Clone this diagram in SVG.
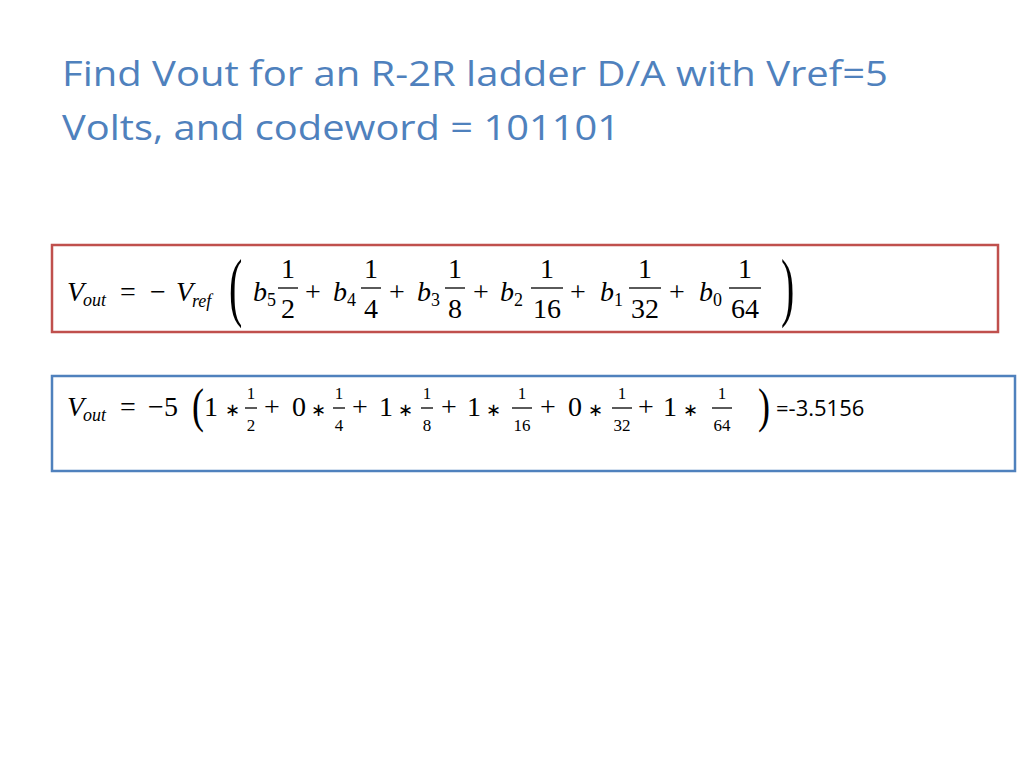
<svg xmlns="http://www.w3.org/2000/svg" width="1024" height="768" viewBox="0 0 1024 768">
<style>
.t{font-family:"Open Sans","Liberation Sans",sans-serif;font-size:35px;fill:#4f81bd}
.m{font-family:"Liberation Serif",serif;fill:#000}
.i{font-style:italic}
.a{font-size:28px}
.s{font-size:18px}
.f{font-size:28px;text-anchor:middle}
.g{font-size:17px;text-anchor:middle}
.o{text-anchor:middle}
.fl{stroke:#000;stroke-width:1.3}
</style>
<rect width="1024" height="768" fill="#fff"/>
<g id="title">
<text class="t" x="62" y="86" textLength="826" lengthAdjust="spacingAndGlyphs">Find Vout for an R-2R ladder D/A with Vref=5</text>
<text class="t" x="62" y="140" textLength="558" lengthAdjust="spacingAndGlyphs">Volts, and codeword = 101101</text>
</g>
<g id="formula">
<rect x="52" y="245" width="946" height="87" fill="#fff" stroke="#c0504d" stroke-width="2.5"/>
<g class="m a">
<text x="67" y="301" class="i">V</text><text x="83" y="306" class="i s">out</text>
<text x="128" y="301" class="o">=</text>
<text x="158" y="301" class="o">−</text>
<text x="176" y="301" class="i">V</text><text x="192" y="307" class="i s">ref</text>
<text transform="translate(229 312) scale(1 1.9)" style="font-size:40px">(</text>
<text x="253" y="301" class="i">b</text><text x="267" y="306" class="s">5</text>
<text x="313" y="301" class="o">+</text>
<text x="333" y="301" class="i">b</text><text x="347" y="306" class="s">4</text>
<text x="397" y="301" class="o">+</text>
<text x="417" y="301" class="i">b</text><text x="431" y="306" class="s">3</text>
<text x="481" y="301" class="o">+</text>
<text x="500" y="301" class="i">b</text><text x="514" y="306" class="s">2</text>
<text x="578" y="301" class="o">+</text>
<text x="600" y="301" class="i">b</text><text x="614" y="306" class="s">1</text>
<text x="677" y="301" class="o">+</text>
<text x="699" y="301" class="i">b</text><text x="713" y="306" class="s">0</text>
<text transform="translate(781 312) scale(1 1.9)" style="font-size:40px">)</text>
</g>
<g class="m">
<text class="f" x="288" y="278">1</text><line class="fl" x1="278" y1="288" x2="298" y2="288"/><text class="f" x="288" y="318">2</text>
<text class="f" x="371" y="278">1</text><line class="fl" x1="361" y1="288" x2="381" y2="288"/><text class="f" x="371" y="318">4</text>
<text class="f" x="455" y="278">1</text><line class="fl" x1="445" y1="288" x2="465" y2="288"/><text class="f" x="455" y="318">8</text>
<text class="f" x="547" y="278">1</text><line class="fl" x1="531" y1="288" x2="563" y2="288"/><text class="f" x="547" y="318">16</text>
<text class="f" x="645" y="278">1</text><line class="fl" x1="629" y1="288" x2="661" y2="288"/><text class="f" x="645" y="318">32</text>
<text class="f" x="745" y="278">1</text><line class="fl" x1="729" y1="288" x2="761" y2="288"/><text class="f" x="745" y="318">64</text>
</g>
</g>
<g id="result">
<rect x="52" y="376" width="963" height="95" fill="#fff" stroke="#4f81bd" stroke-width="2.5"/>
<g class="m a">
<text x="67" y="416" class="i">V</text><text x="83" y="421" class="i s">out</text>
<text x="128" y="416" class="o">=</text>
<text x="163" y="416" class="o">−5</text>
<text transform="translate(192 422) scale(1 1.35)" style="font-size:36px">(</text>
<text x="211" y="416" class="o">1</text><text x="232" y="416" class="o s">∗</text>
<text x="272" y="416" class="o">+</text>
<text x="299" y="416" class="o">0</text><text x="318" y="416" class="o s">∗</text>
<text x="360" y="416" class="o">+</text>
<text x="386" y="416" class="o">1</text><text x="405" y="416" class="o s">∗</text>
<text x="449" y="416" class="o">+</text>
<text x="474" y="416" class="o">1</text><text x="493" y="416" class="o s">∗</text>
<text x="548" y="416" class="o">+</text>
<text x="575" y="416" class="o">0</text><text x="595" y="416" class="o s">∗</text>
<text x="646" y="416" class="o">+</text>
<text x="670" y="416" class="o">1</text><text x="690" y="416" class="o s">∗</text>
<text transform="translate(758 422) scale(1 1.35)" style="font-size:36px">)</text>
</g>
<g class="m">
<text class="g" x="251" y="399">1</text><line class="fl" x1="245" y1="408" x2="257" y2="408" stroke-width="1"/><text class="g" x="251" y="431">2</text>
<text class="g" x="339" y="399">1</text><line class="fl" x1="333" y1="408" x2="345" y2="408" stroke-width="1"/><text class="g" x="339" y="431">4</text>
<text class="g" x="427" y="399">1</text><line class="fl" x1="421" y1="408" x2="433" y2="408" stroke-width="1"/><text class="g" x="427" y="431">8</text>
<text class="g" x="522" y="399">1</text><line class="fl" x1="512" y1="408" x2="532" y2="408" stroke-width="1"/><text class="g" x="522" y="431">16</text>
<text class="g" x="622" y="399">1</text><line class="fl" x1="612" y1="408" x2="632" y2="408" stroke-width="1"/><text class="g" x="622" y="431">32</text>
<text class="g" x="722" y="399">1</text><line class="fl" x1="712" y1="408" x2="732" y2="408" stroke-width="1"/><text class="g" x="722" y="431">64</text>
</g>
<text x="776" y="416" style="font-family:'Open Sans','Liberation Sans',sans-serif;font-size:22px;fill:#000">=-3.5156</text>
</g>
</svg>
